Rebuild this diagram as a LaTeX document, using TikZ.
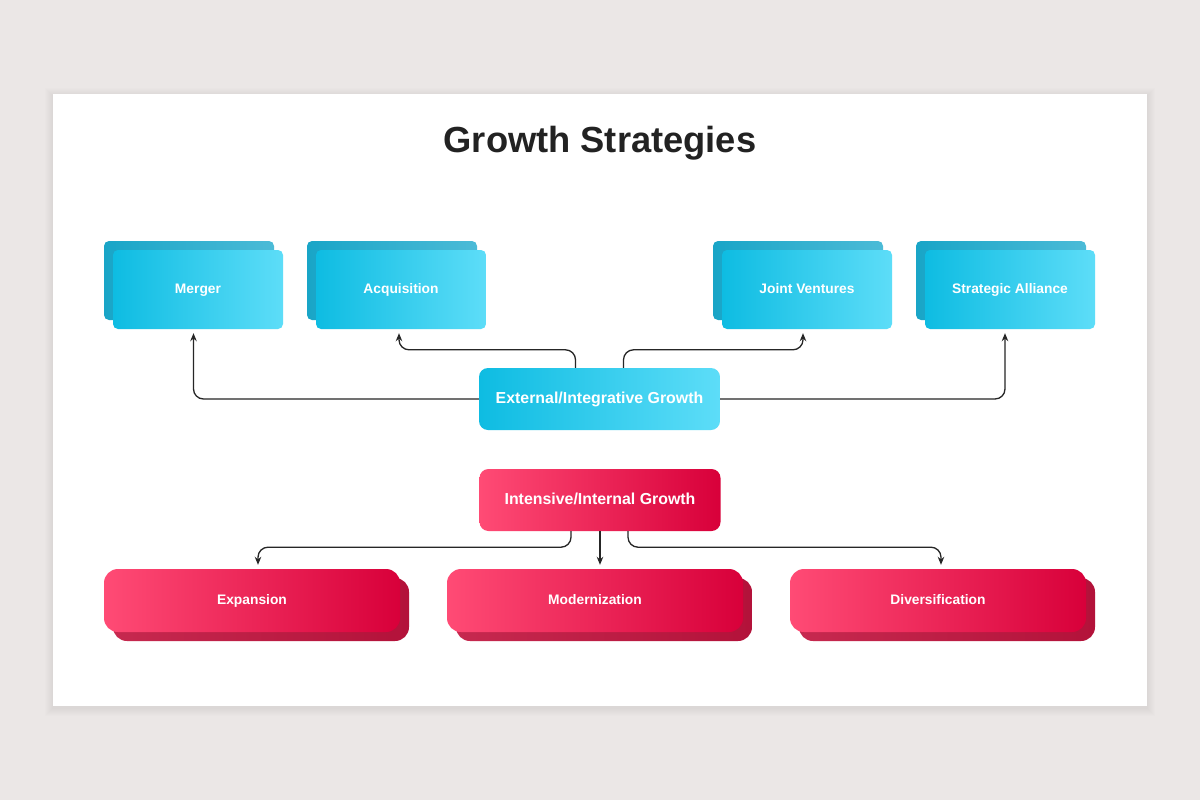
\documentclass[tikz,border=0pt]{standalone}
\usepackage{fontspec}
\setmainfont{Liberation Sans}
\usetikzlibrary{calc,arrows.meta}
\definecolor{pagebg}{HTML}{EBE7E6}
\definecolor{titlecol}{HTML}{222222}
\definecolor{cyanL}{HTML}{0EBCE2}
\definecolor{cyanR}{HTML}{5DDDF8}
\definecolor{cyanBL}{HTML}{19A5C7}
\definecolor{cyanBR}{HTML}{4CBBD7}
\definecolor{pinkL}{HTML}{FF4B75}
\definecolor{pinkR}{HTML}{D8003A}
\definecolor{pinkBL}{HTML}{C6294F}
\definecolor{pinkBR}{HTML}{B3123A}
\tikzset{
  topback/.style={rounded corners=5pt,left color=cyanBL,right color=cyanBR,minimum width=170pt,minimum height=79pt},
  topbox/.style={rounded corners=5pt,left color=cyanL,right color=cyanR,minimum width=170pt,minimum height=79pt,
    text=white,text height=10pt,text depth=2pt,font=\bfseries\fontsize{13.8}{16}\selectfont},
  extbox/.style={topbox,rounded corners=9pt,minimum width=241pt,minimum height=62pt,
    text height=12pt,text depth=3pt,font=\bfseries\fontsize{15.9}{18}\selectfont},
  intbox/.style={extbox,left color=pinkL,right color=pinkR},
  lowback/.style={rounded corners=14pt,left color=pinkBL,right color=pinkBR,minimum width=296pt,minimum height=63pt},
  lowbox/.style={rounded corners=14pt,left color=pinkL,right color=pinkR,minimum width=296pt,minimum height=63pt,
    text=white,text height=10pt,text depth=2pt,font=\bfseries\fontsize{13.8}{16}\selectfont},
  link/.style={-{Stealth[length=8pt,width=6.5pt]},line width=1.3pt,rounded corners=10pt,black!85}
}
\begin{document}
\begin{tikzpicture}[x=1pt,y=-1pt]
\useasboundingbox (0,0) rectangle (1200,800);
\fill[pagebg] (0,0) rectangle (1200,800);
% soft shadow of the card
\foreach \s in {1,...,8}
  \fill[black,opacity=0.008] (53-\s,94-\s+2) rectangle (1147+\s,706+\s+2);
\fill[white] (53,94) rectangle (1147,706);

\node[text=titlecol,font=\bfseries\fontsize{36.3}{40}\selectfont] (title) at (600,143) {Growth Strategies};

% external side
\node[topback] (mergerb) at (189,280.5) {};
\node[topbox] (merger) at (198,289.5) {Merger};
\node[topback] (acqb) at (392,280.5) {};
\node[topbox] (acq) at (401,289.5) {Acquisition};
\node[topback] (jvb) at (798,280.5) {};
\node[topbox] (jv) at (807,289.5) {Joint Ventures};
\node[topback] (sab) at (1001,280.5) {};
\node[topbox] (sa) at (1010,289.5) {Strategic Alliance};
\node[extbox] (ext) at (599.5,399) {External/Integrative Growth};

% internal side
\node[intbox] (int) at (600,500) {Intensive/Internal Growth};
\node[lowback] (expb) at (261,609.5) {};
\node[lowbox] (exp) at (252,600.5) {Expansion};
\node[lowback] (modb) at (604,609.5) {};
\node[lowbox] (mod) at (595,600.5) {Modernization};
\node[lowback] (divb) at (947,609.5) {};
\node[lowbox] (div) at (938,600.5) {Diversification};

\draw[link] (ext.west) -| ($(merger.south)+(-4.5,4)$);
\draw[link] ($(ext.north)+(-24,0)$) -- ++(0,-18) -| ($(acq.south)+(-2,4)$);
\draw[link] ($(ext.north)+(24,0)$) -- ++(0,-18) -| ($(jv.south)+(-4,4)$);
\draw[link] (ext.east) -| ($(sa.south)+(-5,4)$);

\draw[link] ($(int.south)+(-29,0)$) -- ++(0,16) -| ($(exp.north)+(6,-4)$);
\draw[link] (int.south) -- ($(int.south |- mod.north)+(0,-4)$);
\draw[link] ($(int.south)+(28,0)$) -- ++(0,16) -| ($(div.north)+(3,-4)$);
\end{tikzpicture}
\end{document}
